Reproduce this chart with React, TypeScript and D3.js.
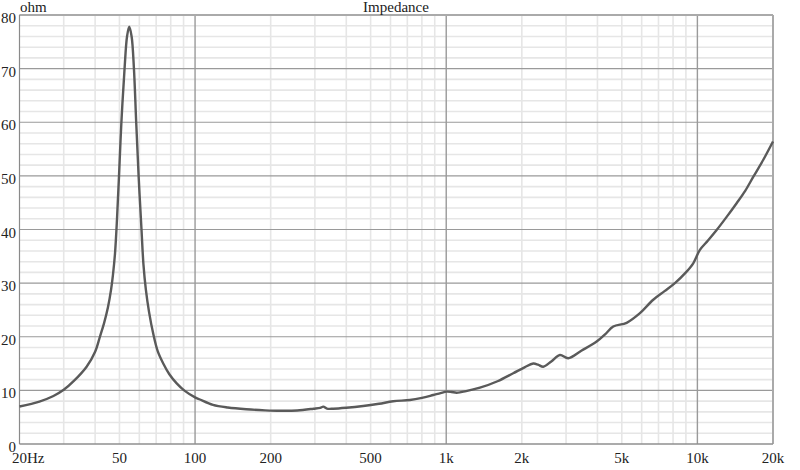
import React from "react";
import * as d3 from "d3";

const freqs = [
  20, 24, 27.3, 30, 33, 37, 40, 41.8, 43.4, 45.0, 46.3, 47.1, 48.0, 48.9, 49.8, 50.9, 52.4, 53.6, 54.7,
  55.9, 57.1, 58.3, 59.6, 61.2, 62.3, 63.7, 65.6, 68.2, 71, 74.7, 79, 84.5, 91, 100, 104.6, 117.8,
  135, 160, 190, 218, 255, 296, 315, 324, 335, 355, 400, 467, 540, 615, 717, 800, 888, 950, 1004, 1050,
  1100, 1200, 1362, 1600, 1848, 2050, 2220, 2320, 2434, 2620, 2836, 3060, 3450, 3972, 4300, 4624, 5228,
  5906, 6672, 7400, 8138, 9000, 9626, 10234, 11000, 11930, 13100, 14328, 15500, 16684, 18300, 20000,
];
const ohms = [
  7.0, 7.9, 8.95, 10.1, 11.8, 14.4, 17.2, 20, 22.5, 25.5, 28.8, 31.5, 35.5, 42, 50, 60, 70, 76, 77.8,
  76, 70, 60, 50, 40, 33.5, 28.8, 24.6, 20.5, 17.3, 15, 13, 11.3, 9.9, 8.7, 8.3, 7.3,
  6.8, 6.47, 6.28, 6.2, 6.25, 6.58, 6.75, 6.96, 6.6, 6.58, 6.75, 7.08, 7.5, 7.96, 8.2, 8.6, 9.14, 9.5, 9.76, 9.7,
  9.57, 9.85, 10.5, 11.7, 13.2, 14.3, 15.0, 14.8, 14.4, 15.4, 16.6, 16.0, 17.4, 19.1, 20.5, 21.9, 22.6,
  24.4, 26.9, 28.5, 30, 32, 33.7, 36.2, 37.9, 39.9, 42.4, 44.9, 47.2, 49.8, 53, 56.4,
];

const yTicks = [0, 10, 20, 30, 40, 50, 60, 70, 80];
const xTickValues = [20, 50, 100, 200, 500, 1000, 2000, 5000, 10000, 20000];
const xTickLabels = ["20", "50", "100", "200", "500", "1k", "2k", "5k", "10k", "20k"];

const W = 800;
const H = 470;
const FONT = "'Liberation Serif', 'Times New Roman', serif";

export default function App() {
  const x = d3.scaleLog().domain([20, 20000]).range([19.5, 773]);
  const y = d3.scaleLinear().domain([0, 80]).range([444, 15]);

  const minorX: number[] = [];
  [10, 100, 1000, 10000].forEach((dec) => {
    for (let k = 2; k <= 9; k++) {
      const f = k * dec;
      if (f > 20 && f < 20000) minorX.push(f);
    }
  });
  const majorX = [100, 1000, 10000];
  const minorY = d3.range(0, 81, 2).filter((v) => v % 10 !== 0);

  const pts: [number, number][] = freqs.map((f, i) => [x(f), y(ohms[i])]);
  const line = d3.line<[number, number]>().curve(d3.curveCatmullRom.alpha(0.5))(pts) || "";

  const [x0, x1] = x.range();
  const [y0, y1] = y.range();

  return (
    <svg width={W} height={H} style={{ position: "absolute", left: 0, top: 0, background: "#fff" }}>
      <rect x={0} y={0} width={W} height={H} fill="#fff" />
      {minorX.map((f) => (
        <line key={"mx" + f} x1={x(f)} x2={x(f)} y1={y1} y2={y0} stroke="#e6e6e6" strokeWidth={1.6} />
      ))}
      {minorY.map((v) => (
        <line key={"my" + v} x1={x0} x2={x1} y1={y(v)} y2={y(v)} stroke="#e6e6e6" strokeWidth={1.6} />
      ))}
      {yTicks.map((v) => (
        <line key={"My" + v} x1={x0} x2={x1} y1={y(v)} y2={y(v)} stroke="#9a9a9a" strokeWidth={1.2} />
      ))}
      {majorX.map((f) => (
        <line key={"Mx" + f} x1={x(f)} x2={x(f)} y1={y1} y2={y0} stroke="#9a9a9a" strokeWidth={1.4} />
      ))}
      <line x1={x0} x2={x1} y1={y1} y2={y1} stroke="#aaaaaa" strokeWidth={2} />
      <line x1={x1} x2={x1} y1={y1} y2={y0} stroke="#aaaaaa" strokeWidth={2} />
      <line x1={x0} x2={x0} y1={y1} y2={y0} stroke="#8a8a8a" strokeWidth={1.2} />
      <line x1={x0} x2={x1} y1={y0} y2={y0} stroke="#8a8a8a" strokeWidth={1.2} />
      <path d={line} fill="none" stroke="#5a5a5a" strokeWidth={2.4} strokeLinejoin="round" />
      {yTicks.map((v) => (
        <text key={"yl" + v} x={16} y={y(v) + 8} textAnchor="end" fontFamily={FONT} fontSize={15} fill="#222">
          {v}
        </text>
      ))}
      {xTickValues.map((f, i) =>
        i === 0 ? (
          <text key={"xl" + f} x={x(f) - 7.5} y={463} textAnchor="start" fontFamily={FONT} fontSize={15} fill="#222">
            {xTickLabels[i]}Hz
          </text>
        ) : (
          <text key={"xl" + f} x={x(f)} y={463} textAnchor="middle" fontFamily={FONT} fontSize={15} fill="#222">
            {xTickLabels[i]}
          </text>
        )
      )}
      <text x={20} y={12} fontFamily={FONT} fontSize={15} fill="#222">
        ohm
      </text>
      <text x={396} y={12} textAnchor="middle" fontFamily={FONT} fontSize={15} fill="#222">
        Impedance
      </text>
    </svg>
  );
}
